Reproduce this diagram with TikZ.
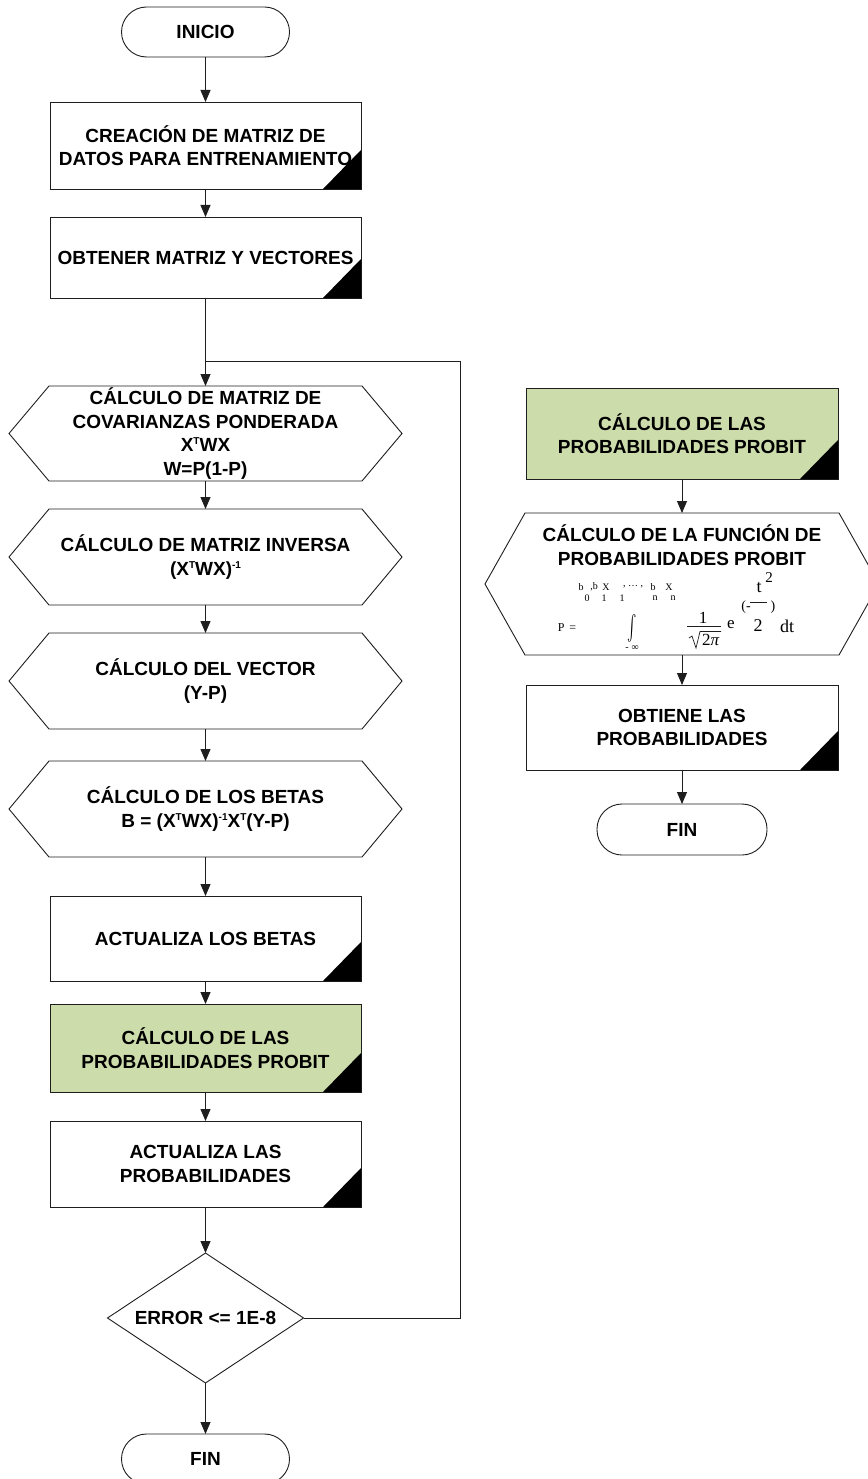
\documentclass[tikz,border=0pt]{standalone}
\usepackage{fontspec}
\setmainfont{Liberation Sans}
\newfontfamily\serif{Liberation Serif}
\usetikzlibrary{arrows.meta,shapes.geometric}
\definecolor{grn}{HTML}{CDDCAB}
\definecolor{lc}{HTML}{1E1E1E}
\newcommand{\fsz}[1]{\fontsize{#1}{#1}\selectfont}
\newcommand{\supT}[1]{\raisebox{0.36em}{\fontsize{10}{10}\selectfont #1}}
\begin{document}
\begin{tikzpicture}[x=1pt,y=-1pt,
 base/.style={font=\bfseries\fontsize{19}{23.5}\selectfont, align=center, inner sep=0pt, outer sep=0pt, text=black},
 proc/.style={base, draw=lc, line width=0.9pt, minimum width=311pt},
 gproc/.style={proc, fill=grn},
 hexa/.style={base, minimum width=393pt, minimum height=96pt},
 term/.style={base, draw=lc, line width=0.9pt, rounded corners=25pt, minimum width=168pt, minimum height=50pt},
 dec/.style={base, diamond, draw=lc, line width=0.9pt, minimum width=196pt, minimum height=130pt, aspect=1.5},
 arr/.style={draw=lc, line width=0.9pt, -{Triangle[length=12pt,width=10pt]}},
 lnk/.style={draw=lc, line width=0.9pt},
 fm/.style={font=\serif\fsz{17}, inner sep=0pt, outer sep=0pt},
 sm/.style={font=\serif\fsz{10}, inner sep=0pt, outer sep=0pt}
]
\path[use as bounding box, fill=white] (0,0) rectangle (867,1479);

% left column
\node[term] (ini) at (205.5,32) {INICIO};
\node[proc, minimum height=87pt] (b1) at (205.5,145.5) {CREACIÓN DE MATRIZ DE\\DATOS PARA ENTRENAMIENTO};
\node[proc, minimum height=81pt] (b2) at (205.5,257.5) {OBTENER MATRIZ Y VECTORES};
\node[hexa, minimum height=95pt] (h1) at (205.5,433.5) {CÁLCULO DE MATRIZ DE\\COVARIANZAS PONDERADA\\X\supT{T}WX\\W=P(1-P)};
\node[hexa] (h2) at (205.5,557) {CÁLCULO DE MATRIZ INVERSA\\(X\supT{T}WX)\supT{-1}};
\node[hexa] (h3) at (205.5,681) {CÁLCULO DEL VECTOR\\(Y-P)};
\node[hexa] (h4) at (205.5,809) {CÁLCULO DE LOS BETAS\\B = (X\supT{T}WX)\supT{-1}X\supT{T}(Y-P)};
\node[proc, minimum height=85pt] (b3) at (205.5,938.5) {ACTUALIZA LOS BETAS};
\node[gproc, minimum height=88pt] (g1) at (205.5,1048) {CÁLCULO DE LAS\\PROBABILIDADES PROBIT};
\node[proc, minimum height=86pt] (b4) at (205.5,1164) {ACTUALIZA LAS\\PROBABILIDADES};
\node[dec] (d) at (205.5,1318) {ERROR <= 1E-8};
\node[term] (fin1) at (205.5,1459) {FIN};

% right column
\node[gproc, minimum width=312pt, minimum height=91pt] (g2) at (682,433.5) {CÁLCULO DE LAS\\PROBABILIDADES PROBIT};
\node[hexa, minimum width=394pt, minimum height=142pt] (hr) at (682,584) {};
\node[base] (hrt) at (682,545) {CÁLCULO DE LA FUNCIÓN DE\\PROBABILIDADES PROBIT};
\node[proc, minimum width=312pt, minimum height=85pt] (b5) at (682,727.5) {OBTIENE LAS\\PROBABILIDADES};
\node[term, minimum width=170pt, minimum height=51pt] (fin2) at (682,829.5) {FIN};

% hexagon outlines
\foreach \n in {h1,h2,h3,h4,hr}
  \draw[lnk] ([xshift=40pt]\n.north west) -- ([xshift=-40pt]\n.north east) -- (\n.east)
     -- ([xshift=-40pt]\n.south east) -- ([xshift=40pt]\n.south west) -- (\n.west) -- cycle;

% black corner triangles
\foreach \n in {b1,b2,b3,g1,b4,g2,b5}
  \fill[black] (\n.south east) -- ([xshift=-38pt]\n.south east) -- ([yshift=39pt]\n.south east) -- cycle;

% formula
\node[sm, font=\serif\fsz{12}] (fP) at (567,628) {P\hspace{5pt}=};
\node[inner sep=0pt] (fint) at (632,628) {\scalebox{1.4}[2.5]{$\int$}};
\node[sm] (u1) at (581,587) {b};
\node[sm] (u2) at (594,587) {,b};
\node[sm] (u3) at (606,587) {X};
\node[sm] (u4) at (633,587) {, \ldots\ ,};
\node[sm] (u5) at (653,587) {b};
\node[sm] (u6) at (669,587) {X};
\node[sm] (s1) at (587,598) {0};
\node[sm] (s2) at (604,598) {1};
\node[sm] (s3) at (622,598) {1};
\node[sm] (s4) at (655,598) {n};
\node[sm] (s5) at (673,598) {n};
\node[sm] (low) at (632,648) {-\hspace{3pt}∞};
\node[fm] (num) at (703,618) {1};
\draw[lnk, line width=0.7pt] (687,626) -- (721,626);
\draw[lnk, line width=0.7pt] (689,638) -- (692,636) -- (696,648) -- (700,631.5) -- (721,631.5);
\node[fm] (den) at (710.5,640) {2{\itshape π}};
\node[fm] (fe) at (731,625) {e};
\node[sm, font=\serif\fsz{14}] (par1) at (746,607) {(-};
\node[fm, font=\serif\fsz{18}] (ft) at (759,588) {t};
\node[sm, font=\serif\fsz{15}] (fsq) at (769,578) {2};
\draw[lnk, line width=0.7pt] (750,602) -- (767,602);
\node[sm, font=\serif\fsz{14}] (par2) at (773,607) {)};
\node[fm, font=\serif\fsz{18}] (f2) at (758,626) {2};
\node[fm, font=\serif\fsz{18}] (fdt) at (787,626) {dt};

% connectors
\coordinate (j) at (205.5,361);
\coordinate (lr) at (460.5,361);
\draw[arr] (ini) -- (b1);
\draw[arr] (b1) -- (b2);
\draw[arr] (b2) -- (h1);
\draw[arr] (h1) -- (h2);
\draw[arr] (h2) -- (h3);
\draw[arr] (h3) -- (h4);
\draw[arr] (h4) -- (b3);
\draw[arr] (b3) -- (g1);
\draw[arr] (g1) -- (b4);
\draw[arr] (b4) -- (d);
\draw[arr] (d) -- (fin1);
\draw[lnk] (d.east) -| (lr) -- (j);
\draw[arr] (g2) -- (hr);
\draw[arr] (hr) -- (b5);
\draw[arr] (b5) -- (fin2);
\end{tikzpicture}
\end{document}
